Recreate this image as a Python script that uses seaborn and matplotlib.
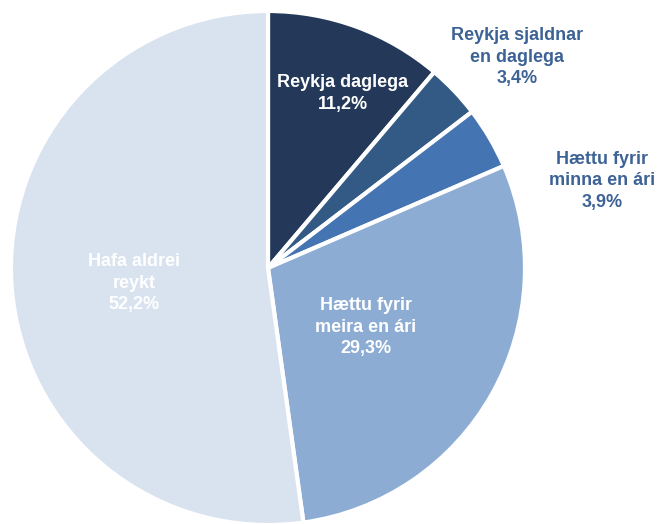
import matplotlib
matplotlib.use("Agg")
import matplotlib.pyplot as plt
import seaborn as sns

# data
categories = ["Reykja daglega", "Reykja sjaldnar\nen daglega", "Hættu fyrir\nminna en ári",
              "Hættu fyrir\nmeira en ári", "Hafa aldrei\nreykt"]
shares = [11.2, 3.4, 3.9, 29.3, 52.2]
share_labels = ["11,2%", "3,4%", "3,9%", "29,3%", "52,2%"]

sns.set_theme(style="white")
plt.rcParams['font.family'] = ['Liberation Sans Narrow', 'Liberation Sans', 'DejaVu Sans']

colors = ["#243959", "#335985", "#4474B1", "#8CACD4", "#D8E3EF"]
text_colors = ["white", "#3D6396", "#3D6396", "white", "white"]
# label spots, in units of the pie radius
label_pos = [(0.29, 0.68), (0.97, 0.82), (1.30, 0.34), (0.38, -0.23), (-0.52, -0.06)]

fig = plt.figure(figsize=(6.59, 5.24), dpi=100)
ax = fig.add_axes([11/659, -1/524, 514/659, 514/524])

wedges, _ = ax.pie(shares, colors=colors, startangle=90, counterclock=False,
                   wedgeprops=dict(edgecolor="white", linewidth=3), radius=1)
for w in wedges:
    w.set_clip_on(False)

for name, lab, (x, y), c in zip(categories, share_labels, label_pos, text_colors):
    ax.text(x, y, name + "\n" + lab, ha="center", va="center", color=c,
            fontsize=13, fontweight="bold", linespacing=1.35, clip_on=False)

ax.set_xlim(-1, 1)
ax.set_ylim(-1, 1)
ax.set_aspect("equal")
ax.axis("off")

fig.savefig("out.png", dpi=100)
